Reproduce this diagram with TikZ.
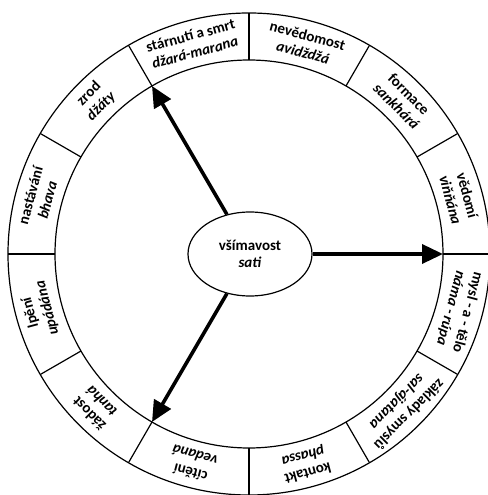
\documentclass[tikz,border=0pt]{standalone}
\usepackage{fontspec}
\setmainfont{Carlito}
\usetikzlibrary{shapes.geometric,arrows.meta}
\begin{document}
\begin{tikzpicture}[x=1pt,y=1pt,
  lab/.style={align=center, font=\fontsize{15}{17.5}\selectfont\bfseries, inner sep=0pt},
  ring/.style={line width=1.2pt},
  arr/.style={line width=3.6pt, -{Triangle[length=21pt,width=19pt]}}]
\useasboundingbox (-249,-241) rectangle (238,254);
\draw[ring] (0,0) circle (241);
\draw[ring] (0,0) circle (194);
\foreach \a in {0,30,...,330} \draw[ring] (\a:194) -- (\a:241);
\node[ellipse, draw, ring, minimum width=124, minimum height=84, inner sep=0pt, lab] (c) at (1,0) {všímavost\\\textit{sati}};
\node[lab, rotate=15] (l1) at (105:217.5) {stárnutí a smrt\\\textit{džará-marana}};
\node[lab, rotate=-15] (l2) at (75:217.5) {nevědomost\\\textit{avidždžá}};
\node[lab, rotate=-45] (l3) at (45:217.5) {formace\\\textit{sankhárá}};
\node[lab, rotate=-75] (l4) at (15:217.5) {vědomí\\\textit{viňňána}};
\node[lab, rotate=-105] (l5) at (-15:217.5) {mysl - a - tělo\\\textit{náma - rúpa}};
\node[lab, rotate=-135] (l6) at (-45:217.5) {základy smyslů\\\textit{sal-ájatana}};
\node[lab, rotate=-165] (l7) at (-75:217.5) {kontakt\\\textit{phassa}};
\node[lab, rotate=165] (l8) at (-105:217.5) {cítění\\\textit{vedaná}};
\node[lab, rotate=135] (l9) at (-135:217.5) {žádost\\\textit{tanhá}};
\node[lab, rotate=105] (l10) at (-165:217.5) {lpění\\\textit{upádána}};
\node[lab, rotate=75] (l11) at (165:217.5) {nastávání\\\textit{bhava}};
\node[lab, rotate=45] (l12) at (135:217.5) {zrod\\\textit{džáty}};
\coordinate (e1) at (120:194);
\coordinate (e2) at (0:194);
\coordinate (e3) at (240:194);
\draw[arr] (c) -- (e1);
\draw[arr] (c) -- (e2);
\draw[arr] (c) -- (e3);
\end{tikzpicture}
\end{document}
